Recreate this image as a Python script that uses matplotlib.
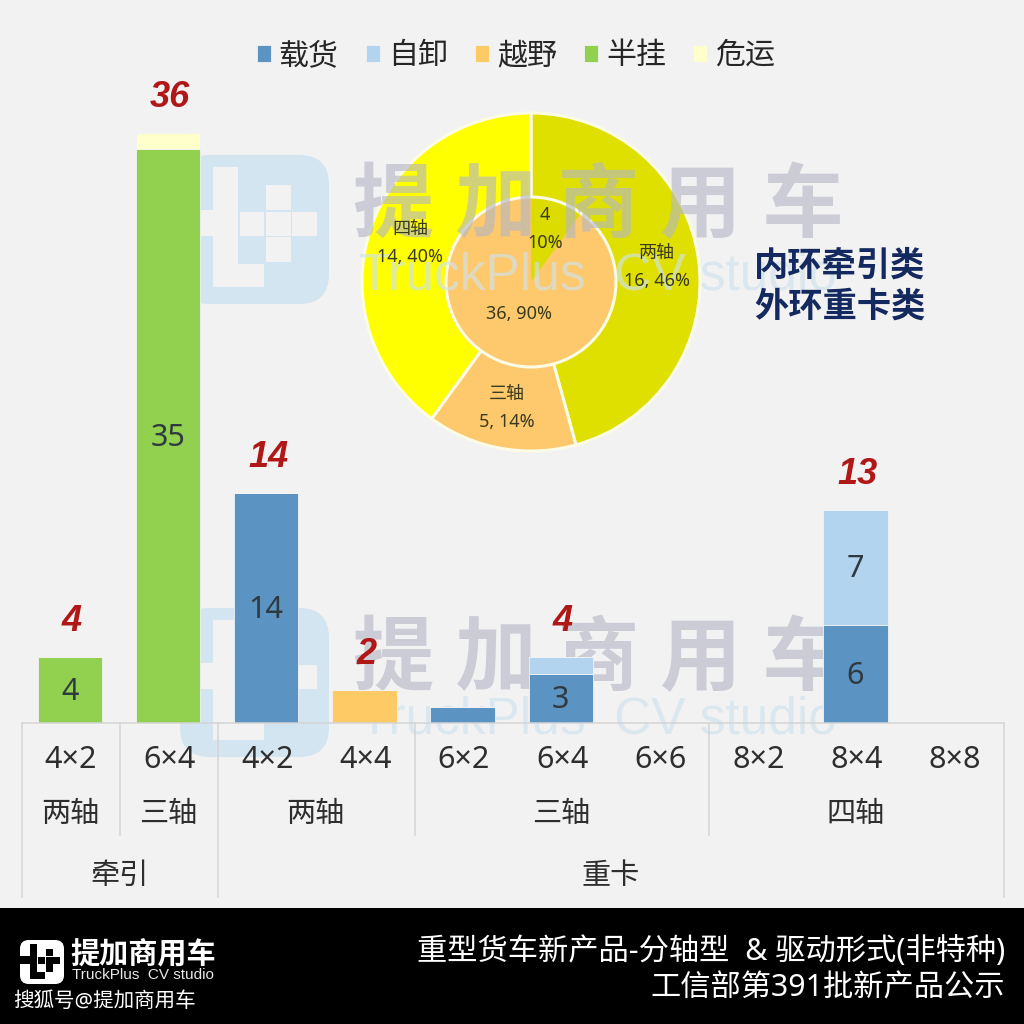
import matplotlib
matplotlib.use("Agg")
import matplotlib.pyplot as plt
from matplotlib.patches import FancyBboxPatch, Rectangle, Circle
import numpy as np

plt.rcParams['font.family'] = ['Noto Sans', 'Noto Sans CJK SC', 'DejaVu Sans']

# ---------- data ----------
drive_labels = ['4×2', '6×4', '4×2', '4×4', '6×2', '6×4', '6×6', '8×2', '8×4', '8×8']
series_names = ['载货', '自卸', '越野', '半挂', '危运']
cargo    = [0, 0, 14, 0, 1, 3, 0, 0, 6, 0]
dump     = [0, 0, 0, 0, 0, 1, 0, 0, 7, 0]
offroad  = [0, 0, 0, 2, 0, 0, 0, 0, 0, 0]
semi     = [4, 35, 0, 0, 0, 0, 0, 0, 0, 0]
hazmat   = [0, 1, 0, 0, 0, 0, 0, 0, 0, 0]
totals   = [4, 36, 14, 2, 1, 4, 0, 0, 13, 0]
shown_total = [True, True, True, True, False, True, False, False, True, False]
axle_groups = [('两轴', 0, 0), ('三轴', 1, 1), ('两轴', 2, 3), ('三轴', 4, 6), ('四轴', 7, 9)]
type_groups = [('牵引', 0, 1), ('重卡', 2, 9)]

outer_vals = [16, 5, 14]
outer_labels = ['两轴\n16, 46%', '三轴\n5, 14%', '四轴\n14, 40%']
inner_vals = [4, 36]
inner_labels = ['4\n10%', '36, 90%']

colors = ['#5b93c3', '#b3d4ef', '#fdca66', '#92d050', '#ffffcc']
outer_colors = ['#e0e000', '#fdc96c', '#ffff00']
inner_colors = ['#dcdc00', '#fdc96c']

BG = '#f2f2f2'
TXT = '#2e2e2e'
W = 1024
fig = plt.figure(figsize=(10.24, 10.24), dpi=100, facecolor=BG)

def box(l, t, r, b):
    return [l / W, 1 - b / W, (r - l) / W, (b - t) / W]

def pixel_axes(z):
    a = fig.add_axes([0, 0, 1, 1], zorder=z)
    a.set_xlim(0, W)
    a.set_ylim(W, 0)
    a.axis('off')
    a.patch.set_visible(False)
    return a

# ---------- donut ----------
R = 169
pax = fig.add_axes(box(531 - R - 2, 282 - R - 2, 531 + R + 2, 282 + R + 2), zorder=1)
edge = dict(edgecolor='#fbfbe6', linewidth=2.2)
pax.pie(outer_vals, radius=R, colors=outer_colors, startangle=90, counterclock=False,
        wedgeprops=edge)
pax.pie(inner_vals, radius=85, colors=inner_colors, startangle=90, counterclock=False,
        wedgeprops=dict(linewidth=0))
pax.add_patch(Circle((0, 0), 85, fc='none', ec='#fbfbe6', lw=2.2))
pax.set_xlim(-(R + 2), R + 2)
pax.set_ylim(-(R + 2), R + 2)
pax.set_aspect('equal')
pax.axis('off')

# ---------- watermark, over the donut and under the bars ----------
wm = pixel_axes(2)

LOGO_CUTS = [(33, 12, 25, 120), (33, 110, 52, 23), (0, 55, 33, 27),
             (87, 30, 25, 25), (87, 57, 25, 25), (87, 83, 25, 25),
             (60, 57, 25, 25), (113, 57, 25, 25)]

def logo(a, l, t, s, col, cut, z):
    a.add_patch(FancyBboxPatch((l + 0.15 * s, t + 0.15 * s), 0.7 * s, 0.7 * s,
                               boxstyle=f'round,pad={0.15 * s},rounding_size={0.2 * s}',
                               fc=col, ec='none', zorder=z))
    u = s / 150
    for rx, ry, rw, rh in LOGO_CUTS:
        a.add_patch(Rectangle((l + rx * u, t + ry * u), rw * u, rh * u, fc=cut, ec='none',
                              zorder=z + 0.1))

for t, ty1, ty2 in [(155, 210, 276), (608, 663, 720)]:
    logo(wm, 180, t, 149, '#d3e5f0', BG, 2)
    wm.text(598, ty1, '提 加 商 用 车', ha='center', va='center', fontsize=58.5, weight='bold',
            color='#b4b6c4', alpha=0.62, zorder=3)
    wm.text(598, ty2, 'TruckPlus  CV studio', ha='center', va='center', fontsize=37,
            color='#cfe2ec', alpha=0.65, zorder=3, family='Liberation Sans')

# ---------- bars ----------
ax = fig.add_axes(box(20.7, 95, 1002.7, 723), zorder=3)
ax.set_facecolor('none')
ax.set_xlim(-0.5, 9.5)
ax.set_ylim(0, 628 / 16.4)
x = np.arange(len(drive_labels))
bottom = np.zeros(len(x))
handles = []
for vals, c, name in zip([cargo, dump, offroad, semi, hazmat], colors, series_names):
    h = ax.bar(x, vals, 0.655, bottom=bottom, color=c, label=name,
               edgecolor='#f2f2f2', linewidth=0.6)
    handles.append(h)
    for xi, v, b in zip(x, vals, bottom):
        if v >= 3:
            ax.annotate(str(v), (xi, b + v / 2), xytext=(0, -1.5), textcoords='offset points',
                        ha='center', va='center', fontsize=22, color='#2f3a40')
    bottom += np.array(vals)
for xi, t, s in zip(x, totals, shown_total):
    if s:
        ax.annotate(str(t), (xi, t), xytext=(1.5, 13), textcoords='offset points',
                    ha='center', va='bottom', fontsize=26, color='#b01818',
                    family='Liberation Sans', weight='bold', style='italic')
for s in ax.spines.values():
    s.set_visible(False)
ax.set_xticks([])
ax.set_yticks([])

# ---------- legend ----------
leg = ax.legend(handles=handles, ncols=5, frameon=False, loc='center',
                bbox_to_anchor=(516 / W, 1 - 56 / W), bbox_transform=fig.transFigure,
                fontsize=21.6, labelcolor='#262626', handlelength=0.47, handleheight=0.47,
                handletextpad=0.27, columnspacing=0.9, borderpad=0)
leg._legend_handle_box.align = 'top'

# ---------- overlay: category axis, labels, footer ----------
ov = pixel_axes(4)

x0, step = 22, 98.2
def cx(i):
    return x0 + step * (i + 0.5)
def edge_x(i):
    return x0 + step * i

LINE = '#d4d4d4'
ov.plot([22, 1004], [723, 723], color=LINE, lw=1.1)
for e in [0, 1, 2, 4, 7, 10]:
    bot = 897 if e in (0, 2, 10) else 835
    ov.plot([edge_x(e)] * 2, [723, bot], color=LINE, lw=1.1)
for i, lab in enumerate(drive_labels):
    ov.text(cx(i), 760, lab, ha='center', va='center', fontsize=22, color=TXT)
for lab, a, b in axle_groups:
    ov.text((cx(a) + cx(b)) / 2 - 1, 815, lab, ha='center', va='center', fontsize=21, color=TXT)
for lab, a, b in type_groups:
    ov.text((cx(a) + cx(b)) / 2 - 1, 876, lab, ha='center', va='center', fontsize=21, color=TXT)

# donut labels
DL = '#3a3a20'
for lab, px, py in zip(outer_labels, [657, 507, 410], [267, 408, 243]):
    ov.text(px, py, lab, ha='center', va='center', fontsize=13, color=DL, linespacing=1.7)
ov.text(545, 229, inner_labels[0], ha='center', va='center', fontsize=13, color=DL, linespacing=1.7)
ov.text(519, 314, inner_labels[1], ha='center', va='center', fontsize=13, color=DL)

ov.text(840, 267, '内环牵引类', ha='center', va='center', fontsize=24.7, color='#14295f', weight='bold')
ov.text(840, 308, '外环重卡类', ha='center', va='center', fontsize=24.7, color='#14295f', weight='bold')

# footer
ov.add_patch(Rectangle((0, 908), W, W - 908, fc='black', ec='none', zorder=7))
logo(ov, 20, 940, 44, 'white', 'black', 8)
ov.text(143, 956, '提加商用车', ha='center', va='center', fontsize=21, weight='bold', color='white', zorder=8)
ov.text(143, 975, 'TruckPlus  CV studio', ha='center', va='center', fontsize=11, color='#e8e8e8', zorder=8,
        family='Liberation Sans')
ov.text(13, 1002, '搜狐号@提加商用车', ha='left', va='center', fontsize=14.8, color='white', zorder=8)
ov.text(1005, 952, '重型货车新产品-分轴型  & 驱动形式(非特种)', ha='right', va='center', fontsize=21.8, color='white', zorder=8)
ov.text(1005, 988, '工信部第391批新产品公示', ha='right', va='center', fontsize=21.8, color='white', zorder=8)

fig.savefig('out.png', dpi=100, facecolor=BG)
